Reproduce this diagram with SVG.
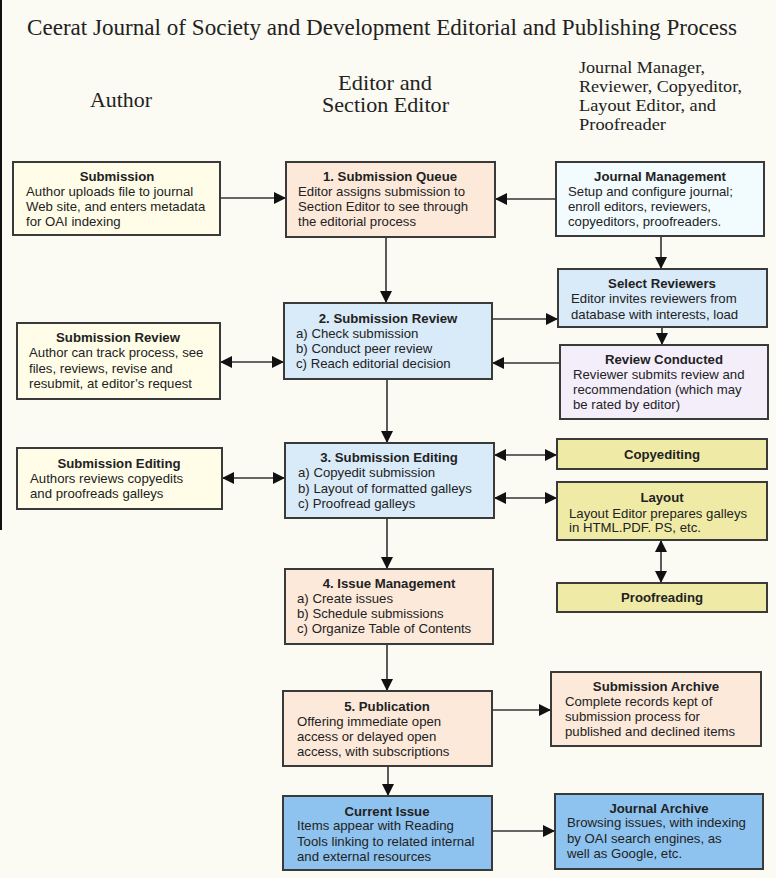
<svg xmlns="http://www.w3.org/2000/svg" width="776" height="878" viewBox="0 0 776 878">
<defs>
<marker id="ah" viewBox="0 0 12 12" refX="12" refY="6" markerWidth="12" markerHeight="12" markerUnits="userSpaceOnUse" orient="auto-start-reverse">
<path d="M0,0 L12,6 L0,12 z" fill="#111"/>
</marker>
<style>
.bx{stroke:#3a3a3a;stroke-width:2}
.au{fill:#fffde8}
.pe{fill:#fce9da}
.jm{fill:#f2fbfe}
.lb{fill:#d9eaf9}
.lv{fill:#f4eefb}
.kh{fill:#efeba6}
.db{fill:#8ec3ef}
.t{font-family:"Liberation Sans",Arial,sans-serif;font-size:13.2px;fill:#222}
.h{font-weight:bold;text-anchor:middle}
.hd{font-family:"Liberation Serif","Times New Roman",serif;fill:#222}
.c{fill:none;stroke:#333;stroke-width:1.6}
.c1{marker-end:url(#ah)}
.c2{marker-start:url(#ah);marker-end:url(#ah)}
</style>
</defs>
<rect width="776" height="878" fill="#fbfaf3"/>
<line x1="1" y1="0" x2="1" y2="530" stroke="#111" stroke-width="2"/>
<g id="title">
<text class="hd" x="27" y="35" font-size="23.5" textLength="710" lengthAdjust="spacingAndGlyphs">Ceerat Journal of Society and Development Editorial and Publishing Process</text>
</g>
<g id="headers">
<text class="hd" x="90" y="107" font-size="21" textLength="62" lengthAdjust="spacingAndGlyphs">Author</text>
<text class="hd" x="338" y="90" font-size="21" textLength="94" lengthAdjust="spacingAndGlyphs">Editor and</text>
<text class="hd" x="322" y="112" font-size="21" textLength="127" lengthAdjust="spacingAndGlyphs">Section Editor</text>
<text class="hd" x="579" y="73" font-size="17.5" textLength="126" lengthAdjust="spacingAndGlyphs">Journal Manager,</text>
<text class="hd" x="579" y="92" font-size="17.5" textLength="163" lengthAdjust="spacingAndGlyphs">Reviewer, Copyeditor,</text>
<text class="hd" x="579" y="111" font-size="17.5" textLength="137" lengthAdjust="spacingAndGlyphs">Layout Editor, and</text>
<text class="hd" x="579" y="130" font-size="17.5" textLength="87" lengthAdjust="spacingAndGlyphs">Proofreader</text>
</g>
<g id="connectors">
<path class="c c1" d="M220,198 H286"/>
<path class="c c1" d="M556,199 H495"/>
<path class="c c1" d="M386,237 V303"/>
<path class="c c1" d="M661,236 V269"/>
<path class="c c1" d="M492,319 H558"/>
<path class="c c1" d="M662,327 V345"/>
<path class="c c1" d="M560,363 H492"/>
<path class="c c2" d="M220,362 H284"/>
<path class="c c1" d="M387,379 V443"/>
<path class="c c2" d="M222,478 H285"/>
<path class="c c2" d="M494,455 H557"/>
<path class="c c2" d="M494,498 H557"/>
<path class="c c2" d="M661,540 V583"/>
<path class="c c1" d="M387,518 V569"/>
<path class="c c1" d="M387,644 V691"/>
<path class="c c1" d="M492,710 H551"/>
<path class="c c1" d="M388,766 V796"/>
<path class="c c1" d="M492,831 H555"/>
</g>
<g id="submission">
<rect class="bx au" x="13" y="162" width="207" height="73"/>
<text class="t h" x="117" y="181">Submission</text>
<text class="t" x="26" y="196">Author uploads file to journal</text>
<text class="t" x="26" y="211">Web site, and enters metadata</text>
<text class="t" x="26" y="226">for OAI indexing</text>
</g>
<g id="queue">
<rect class="bx pe" x="286" y="162" width="209" height="75"/>
<text class="t h" x="390" y="181">1. Submission Queue</text>
<text class="t" x="298" y="196">Editor assigns submission to</text>
<text class="t" x="298" y="211">Section Editor to see through</text>
<text class="t" x="298" y="226">the editorial process</text>
</g>
<g id="journal-management">
<rect class="bx jm" x="556" y="162" width="208" height="74"/>
<text class="t h" x="660" y="181">Journal Management</text>
<text class="t" x="568" y="196">Setup and configure journal;</text>
<text class="t" x="568" y="211">enroll editors, reviewers,</text>
<text class="t" x="568" y="226">copyeditors, proofreaders.</text>
</g>
<g id="select-reviewers">
<rect class="bx lb" x="558" y="269" width="209" height="58"/>
<text class="t h" x="662" y="288">Select Reviewers</text>
<text class="t" x="571" y="303">Editor invites reviewers from</text>
<text class="t" x="571" y="319">database with interests, load</text>
</g>
<g id="review-conducted">
<rect class="bx lv" x="560" y="345" width="208" height="74"/>
<text class="t h" x="664" y="364">Review Conducted</text>
<text class="t" x="573" y="379">Reviewer submits review and</text>
<text class="t" x="573" y="394">recommendation (which may</text>
<text class="t" x="573" y="409">be rated by editor)</text>
</g>
<g id="submission-review-editor">
<rect class="bx lb" x="284" y="303" width="208" height="76"/>
<text class="t h" x="388" y="323">2. Submission Review</text>
<text class="t" x="296" y="338">a) Check submission</text>
<text class="t" x="296" y="353">b) Conduct peer review</text>
<text class="t" x="296" y="368">c) Reach editorial decision</text>
</g>
<g id="submission-review-author">
<rect class="bx au" x="17" y="323" width="203" height="76"/>
<text class="t h" x="118" y="342">Submission Review</text>
<text class="t" x="29" y="357">Author can track process, see</text>
<text class="t" x="29" y="373">files, reviews, revise and</text>
<text class="t" x="29" y="388">resubmit, at editor’s request</text>
</g>
<g id="submission-editing-author">
<rect class="bx au" x="17" y="448" width="205" height="61"/>
<text class="t h" x="119" y="468">Submission Editing</text>
<text class="t" x="30" y="483">Authors reviews copyedits</text>
<text class="t" x="30" y="498">and proofreads galleys</text>
</g>
<g id="submission-editing-editor">
<rect class="bx lb" x="285" y="443" width="209" height="75"/>
<text class="t h" x="389" y="462">3. Submission Editing</text>
<text class="t" x="298" y="477">a) Copyedit submission</text>
<text class="t" x="298" y="493">b) Layout of formatted galleys</text>
<text class="t" x="298" y="508">c) Proofread galleys</text>
</g>
<g id="copyediting">
<rect class="bx kh" x="557" y="439" width="210" height="30"/>
<text class="t h" x="662" y="459">Copyediting</text>
</g>
<g id="layout">
<rect class="bx kh" x="557" y="482" width="210" height="58"/>
<text class="t h" x="662" y="502">Layout</text>
<text class="t" x="569" y="518">Layout Editor prepares galleys</text>
<text class="t" x="569" y="532">in HTML.PDF. PS, etc.</text>
</g>
<g id="proofreading">
<rect class="bx kh" x="557" y="583" width="210" height="29"/>
<text class="t h" x="662" y="602">Proofreading</text>
</g>
<g id="issue-management">
<rect class="bx pe" x="285" y="569" width="208" height="75"/>
<text class="t h" x="389" y="588">4. Issue Management</text>
<text class="t" x="297" y="603">a) Create issues</text>
<text class="t" x="297" y="618">b) Schedule submissions</text>
<text class="t" x="297" y="633">c) Organize Table of Contents</text>
</g>
<g id="publication">
<rect class="bx pe" x="283" y="691" width="209" height="75"/>
<text class="t h" x="387" y="711">5. Publication</text>
<text class="t" x="297" y="726">Offering immediate open</text>
<text class="t" x="297" y="741">access or delayed open</text>
<text class="t" x="297" y="756">access, with subscriptions</text>
</g>
<g id="submission-archive">
<rect class="bx pe" x="551" y="672" width="210" height="74"/>
<text class="t h" x="656" y="691">Submission Archive</text>
<text class="t" x="565" y="706">Complete records kept of</text>
<text class="t" x="565" y="721">submission process for</text>
<text class="t" x="565" y="736">published and declined items</text>
</g>
<g id="current-issue">
<rect class="bx db" x="283" y="796" width="209" height="74"/>
<text class="t h" x="387" y="816">Current Issue</text>
<text class="t" x="297" y="830">Items appear with Reading</text>
<text class="t" x="297" y="846">Tools linking to related internal</text>
<text class="t" x="297" y="861">and external resources</text>
</g>
<g id="journal-archive">
<rect class="bx db" x="555" y="794" width="208" height="75"/>
<text class="t h" x="659" y="813">Journal Archive</text>
<text class="t" x="567" y="827">Browsing issues, with indexing</text>
<text class="t" x="567" y="843">by OAI search engines, as</text>
<text class="t" x="567" y="858">well as Google, etc.</text>
</g>
</svg>
